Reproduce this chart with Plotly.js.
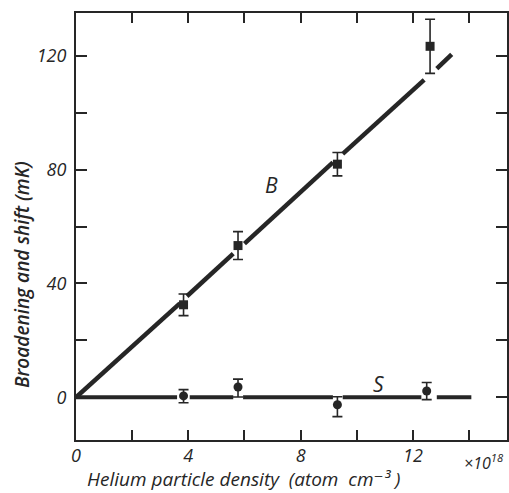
<!DOCTYPE html>
<html>
<head>
<meta charset="utf-8">
<script src="https://cdn.plot.ly/plotly-3.0.1.min.js"></script>
<style>html,body{margin:0;padding:0;background:#fff;}#chart{width:509px;height:493px;}</style>
</head>
<body>
<div id="chart"></div>
<script>
// Broadening (B) data points: density (1e18 atom cm^-3), value (mK), error
const bX = [3.83, 5.77, 9.31, 12.61];
const bY = [32.5, 53.3, 81.9, 123.3];
const bErr = [3.8, 4.9, 4.1, 9.5];
// Shift (S) data points
const sX = [3.83, 5.77, 9.31, 12.49];
const sY = [0.5, 3.6, -2.6, 2.2];
const sErrPlus = [2.2, 2.8, 2.8, 3.0];
const sErrMinus = [2.4, 3.5, 4.2, 3.0];
// Fitted line for B (segments broken at the markers)
const bLineX = [0, 3.7, null, 3.95, 5.6, null, 6.0, 9.15, null, 9.5, 12.4, null, 12.85, 13.38];
const bLineY = [0, 33.0, null, 35.5, 50.5, null, 54.0, 82.5, null, 85.5, 111.5, null, 115.5, 120.5];
// Line for S (zero shift)
const sLineX = [0, 3.6, null, 4.05, 5.6, null, 5.95, 9.15, null, 9.5, 12.3, null, 12.85, 14.08];
const sLineY = [0, 0, null, 0, 0, null, 0, 0, null, 0, 0, null, 0, 0];
// Axis ticks (labelled major ticks, unlabelled minor ticks in between)
const xMajorStep = 4, xMinorStep = 2;
const yMajorStep = 40, yMinorStep = 20;
// Labels
const xTitle = 'Helium particle density  (atom  cm⁻³ )';
const yTitle = 'Broadening and shift (mK)';
const scaleLabel = '×10<sup>18</sup>';
const seriesLabels = ['B', 'S'];
const labelX = [6.97, 10.78];
const labelY = [74.6, 4.8];

const ink = '#262626';
const fontFam = '"Open Sans", "DejaVu Sans", sans-serif';

const traces = [
  {x: bLineX, y: bLineY, mode: 'lines', line: {color: ink, width: 4.5}, hoverinfo: 'skip', showlegend: false, connectgaps: false},
  {x: sLineX, y: sLineY, mode: 'lines', line: {color: ink, width: 4}, hoverinfo: 'skip', showlegend: false, connectgaps: false},
  {x: bX, y: bY, mode: 'markers', marker: {symbol: 'square', size: 9, color: ink},
   error_y: {type: 'data', array: bErr, visible: true, color: ink, thickness: 1.6, width: 5}, showlegend: false},
  {x: sX, y: sY, mode: 'markers', marker: {symbol: 'circle', size: 9, color: ink},
   error_y: {type: 'data', symmetric: false, array: sErrPlus, arrayminus: sErrMinus, visible: true, color: ink, thickness: 1.6, width: 5}, showlegend: false}
];

const tickFont = {family: fontFam, size: 18, color: ink, style: 'italic'};

const layout = {
  width: 509, height: 493,
  margin: {l: 76, r: 2, t: 13, b: 53},
  paper_bgcolor: '#fff', plot_bgcolor: '#fff',
  showlegend: false,
  font: {family: fontFam, color: ink},
  xaxis: {
    range: [0, 15.35], tick0: 0, dtick: xMajorStep,
    ticks: 'inside', ticklen: 10, tickwidth: 2, tickcolor: ink,
    minor: {tick0: 0, dtick: xMinorStep, ticks: 'inside', ticklen: 10, tickwidth: 2, tickcolor: ink, showgrid: false},
    showline: true, linewidth: 2, linecolor: ink, mirror: 'ticks',
    showgrid: false, zeroline: false, ticklabelstandoff: -2,
    tickfont: tickFont
  },
  yaxis: {
    range: [-15, 135], tick0: 0, dtick: yMajorStep,
    ticks: 'inside', ticklen: 11, tickwidth: 2, tickcolor: ink,
    minor: {tick0: 0, dtick: yMinorStep, ticks: 'inside', ticklen: 11, tickwidth: 2, tickcolor: ink, showgrid: false},
    showline: true, linewidth: 2, linecolor: ink, mirror: 'ticks',
    showgrid: false, zeroline: false, ticklabelstandoff: 4,
    tickfont: tickFont
  },
  annotations: [
    {x: labelX[0], y: labelY[0], xref: 'x', yref: 'y', text: seriesLabels[0], showarrow: false,
     font: {family: fontFam, size: 21, color: ink, style: 'italic'}},
    {x: labelX[1], y: labelY[1], xref: 'x', yref: 'y', text: seriesLabels[1], showarrow: false,
     font: {family: fontFam, size: 21, color: ink, style: 'italic'}},
    {x: 1, y: 0, xref: 'paper', yref: 'paper', xanchor: 'right', yanchor: 'top', yshift: -8, xshift: -1,
     text: scaleLabel, showarrow: false,
     font: {family: fontFam, size: 16, color: ink, style: 'italic'}},
    {x: (243 - 76) / 431, y: 0, xref: 'paper', yref: 'paper', yanchor: 'bottom', yshift: -54,
     text: xTitle, showarrow: false,
     font: {family: fontFam, size: 19, color: ink, style: 'italic'}},
    {x: 0, y: (440 - 275) / 427, xref: 'paper', yref: 'paper', xanchor: 'center', xshift: -54,
     text: yTitle, textangle: -90, showarrow: false,
     font: {family: fontFam, size: 19, color: ink, style: 'italic', weight: 600}}
  ]
};

Plotly.newPlot('chart', traces, layout, {displayModeBar: false, staticPlot: true});
</script>
</body>
</html>
